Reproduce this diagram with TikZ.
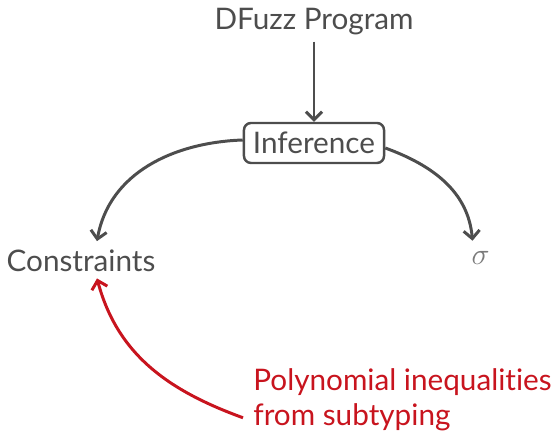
\documentclass[tikz,border=0pt]{standalone}
\usepackage{fontspec}
\setmainfont{Lato}[Ligatures=NoCommon]
\usepackage{tikz}
\usetikzlibrary{arrows.meta, positioning}
\definecolor{dfgray}{HTML}{4D4D4D}
\definecolor{dfsigma}{HTML}{7A7A7A}
\definecolor{dfred}{HTML}{C8141E}

\begin{document}
\begin{tikzpicture}[
  every node/.style={font=\fontsize{16.9}{20}\selectfont, text=dfgray},
  stagebox/.style={rectangle, rounded corners=4pt, draw=dfgray, line width=1.4pt, inner xsep=0.18cm, minimum height=0.8cm},
  flow/.style={draw=dfgray, line width=1.7pt, -{Straight Barb[length=1.6mm,width=3.2mm]}},
  note/.style={anchor=base west, inner sep=0pt, text=dfred},
]
\useasboundingbox (0,0) rectangle (11.08,-8.64);
\node[anchor=base] (prog) at (6.28, -0.60) {DFuzz Program};
\node[stagebox] (inf) at (6.28, -2.86) {Inference};
\node[anchor=base] (cons) at (1.62, -5.44) {Constraints};
\node[anchor=base, text=dfsigma] (sigma) at (9.61, -5.30) {$\sigma$};
\node[note] (poly1) at (5.06, -7.82) {Polynomial inequalities};
\node[note] (poly2) at (5.06, -8.52) {from subtyping};

\draw[flow] (prog) -- (inf);
\draw[flow] ([yshift=0.06cm]inf.west) to[out=182, in=80] ([xshift=0.32cm, yshift=0.06cm]cons.north);
\draw[flow] ([yshift=-0.1cm]inf.east) to[out=-20, in=95] ([xshift=-0.16cm, yshift=0.1cm]sigma.north);
\draw[flow, draw=dfred] ([xshift=-0.2cm]poly2.west) to[out=160, in=-75] ([xshift=0.32cm]cons.south);
\end{tikzpicture}
\end{document}
